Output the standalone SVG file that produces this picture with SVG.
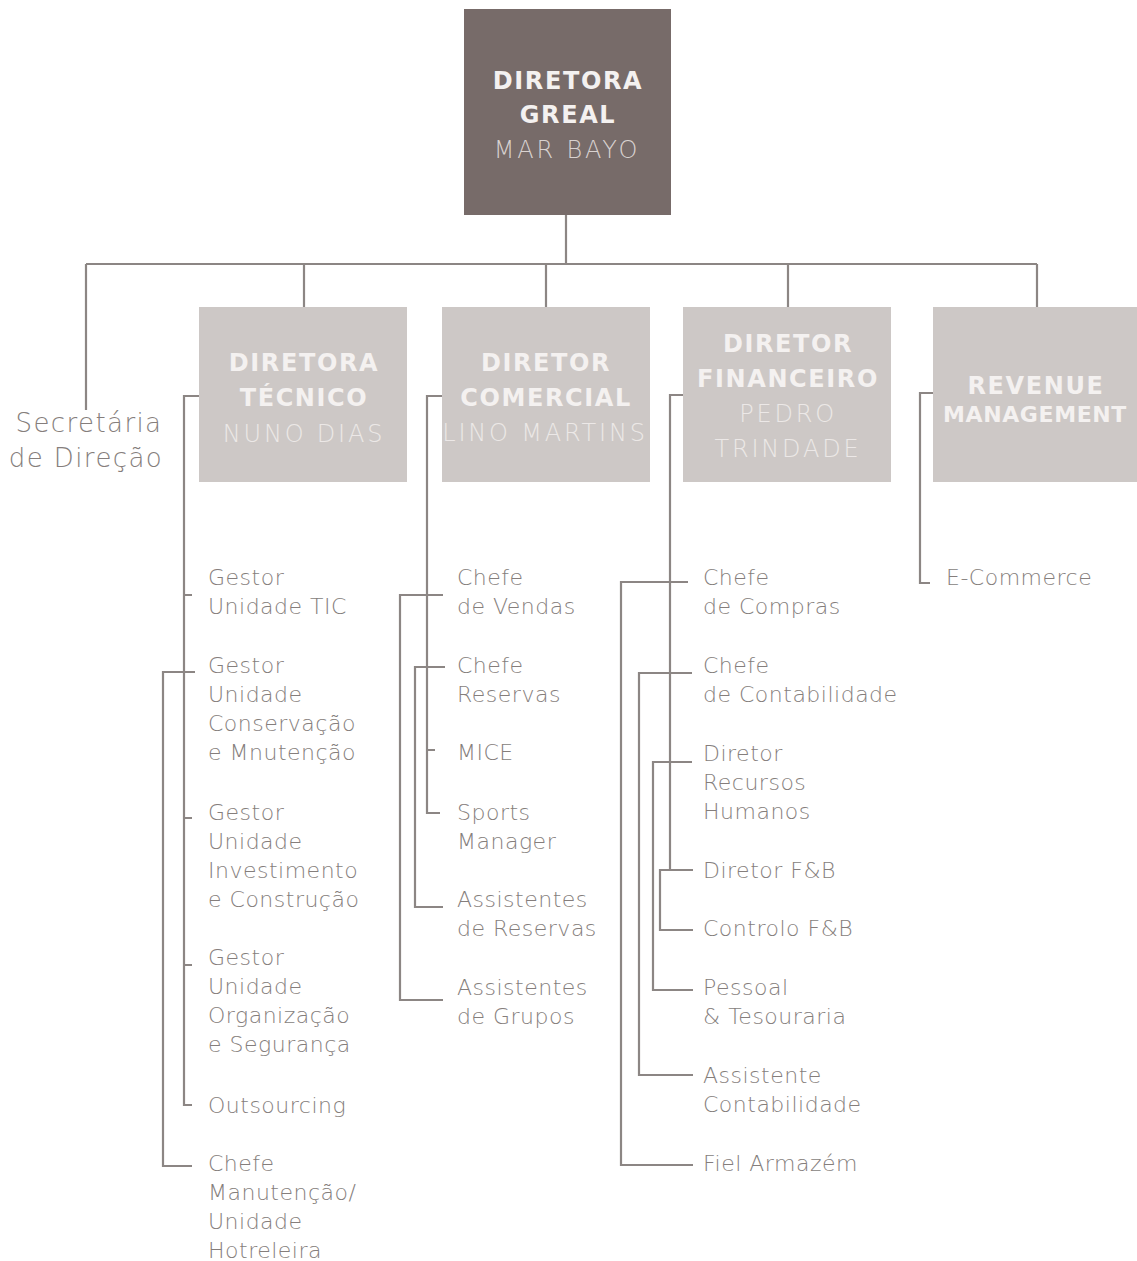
<svg xmlns="http://www.w3.org/2000/svg" width="1137" height="1261" viewBox="0 0 1137 1261">
<style>
.ln{fill:none;stroke:#8c8684;stroke-width:2.2}
.bx{fill:#cdc8c6}
.tb{font-family:"DejaVu Sans","Liberation Sans",sans-serif;font-weight:bold;font-size:24px;letter-spacing:1.6px;fill:#f4f1f0;text-anchor:middle}
.tn{font-family:"DejaVu Sans","Liberation Sans",sans-serif;font-weight:200;font-size:24px;letter-spacing:2.8px;fill:#ece8e7;text-anchor:middle}
.it{font-family:"DejaVu Sans","Liberation Sans",sans-serif;font-weight:200;font-size:22px;letter-spacing:0.5px;fill:#857e7c}
.sc{font-family:"DejaVu Sans","Liberation Sans",sans-serif;font-weight:200;font-size:26px;letter-spacing:1.4px;fill:#857e7c;text-anchor:middle}
</style>
<rect width="1137" height="1261" fill="#ffffff"/>
<g id="connectors" class="ln">
<path d="M566 215V264M86 264H1037M86 264V410M304 264V307M546 264V307M788 264V307M1037 264V307"/>
<path d="M199 396H184V1105H192M184 595H192M184 818H192M184 965H192M195 672H163V1166H192"/>
<path d="M442 396H427V813H440M427 750H435M443 595H400V1000H443M445 667H415V907H443"/>
<path d="M683 395H670V870M693 870H660V930H693M688 582H621V1165H693M692 673H639V1075H693M692 762H653V990H693"/>
<path d="M933 393H920V583H930"/>
</g>
<g id="n_dg">
<rect x="464" y="9" width="207" height="206" fill="#776b69"/>
<text class="tb" x="568" y="89">DIRETORA</text>
<text class="tb" x="568" y="123">GREAL</text>
<text class="tn" x="567" y="158" style="fill:#d9d2d0">MAR BAYO</text>
</g>
<g id="n_sec">
<text class="sc" x="89" y="432">Secretária</text>
<text class="sc" x="86" y="467">de Direção</text>
</g>
<g id="n_tec">
<rect class="bx" x="199" y="307" width="208" height="175"/>
<text class="tb" x="304" y="371">DIRETORA</text>
<text class="tb" x="304" y="406">TÉCNICO</text>
<text class="tn" x="304" y="442">NUNO DIAS</text>
</g>
<g id="n_com">
<rect class="bx" x="442" y="307" width="208" height="175"/>
<text class="tb" x="546" y="371">DIRETOR</text>
<text class="tb" x="546" y="406">COMERCIAL</text>
<text class="tn" x="545" y="441">LINO MARTINS</text>
</g>
<g id="n_fin">
<rect class="bx" x="683" y="307" width="208" height="175"/>
<text class="tb" x="788" y="352">DIRETOR</text>
<text class="tb" x="788" y="387">FINANCEIRO</text>
<text class="tn" x="788" y="422">PEDRO</text>
<text class="tn" x="788" y="457">TRINDADE</text>
</g>
<g id="n_rev">
<rect class="bx" x="933" y="307" width="204" height="175"/>
<text class="tb" x="1036" y="394">REVENUE</text>
<text class="tb" x="1035" y="422" style="font-size:22px;letter-spacing:0.6px">MANAGEMENT</text>
</g>
<g id="tec_items">
<g id="t1"><text class="it" x="208" y="585">Gestor</text><text class="it" x="208" y="614">Unidade TIC</text></g>
<g id="t2"><text class="it" x="208" y="673">Gestor</text><text class="it" x="208" y="702">Unidade</text><text class="it" x="208" y="731">Conservação</text><text class="it" x="208" y="760">e Mnutenção</text></g>
<g id="t3"><text class="it" x="208" y="820">Gestor</text><text class="it" x="208" y="849">Unidade</text><text class="it" x="208" y="878">Investimento</text><text class="it" x="208" y="907">e Construção</text></g>
<g id="t4"><text class="it" x="208" y="965">Gestor</text><text class="it" x="208" y="994">Unidade</text><text class="it" x="208" y="1023">Organização</text><text class="it" x="208" y="1052">e Segurança</text></g>
<g id="t5"><text class="it" x="208" y="1113">Outsourcing</text></g>
<g id="t6"><text class="it" x="208" y="1171">Chefe</text><text class="it" x="208" y="1200">Manutenção/</text><text class="it" x="208" y="1229">Unidade</text><text class="it" x="208" y="1258">Hotreleira</text></g>
</g>
<g id="com_items">
<g id="c1"><text class="it" x="457" y="585">Chefe</text><text class="it" x="457" y="614">de Vendas</text></g>
<g id="c2"><text class="it" x="457" y="673">Chefe</text><text class="it" x="457" y="702">Reservas</text></g>
<g id="c3"><text class="it" x="457" y="760">MICE</text></g>
<g id="c4"><text class="it" x="457" y="820">Sports</text><text class="it" x="457" y="849">Manager</text></g>
<g id="c5"><text class="it" x="457" y="907">Assistentes</text><text class="it" x="457" y="936">de Reservas</text></g>
<g id="c6"><text class="it" x="457" y="995">Assistentes</text><text class="it" x="457" y="1024">de Grupos</text></g>
</g>
<g id="fin_items">
<g id="f1"><text class="it" x="703" y="585">Chefe</text><text class="it" x="703" y="614">de Compras</text></g>
<g id="f2"><text class="it" x="703" y="673">Chefe</text><text class="it" x="703" y="702">de Contabilidade</text></g>
<g id="f3"><text class="it" x="703" y="761">Diretor</text><text class="it" x="703" y="790">Recursos</text><text class="it" x="703" y="819">Humanos</text></g>
<g id="f4"><text class="it" x="703" y="878">Diretor F&amp;B</text></g>
<g id="f5"><text class="it" x="703" y="936">Controlo F&amp;B</text></g>
<g id="f6"><text class="it" x="703" y="995">Pessoal</text><text class="it" x="703" y="1024">&amp; Tesouraria</text></g>
<g id="f7"><text class="it" x="703" y="1083">Assistente</text><text class="it" x="703" y="1112">Contabilidade</text></g>
<g id="f8"><text class="it" x="703" y="1171">Fiel Armazém</text></g>
</g>
<g id="rev_items">
<g id="r1"><text class="it" x="946" y="585">E-Commerce</text></g>
</g>
</svg>
